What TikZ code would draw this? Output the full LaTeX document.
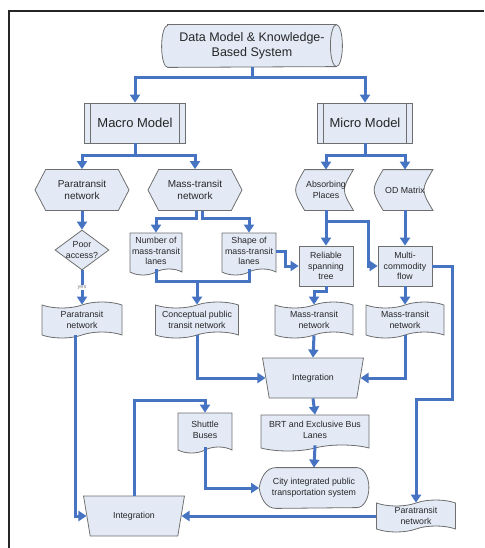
\documentclass[tikz,border=0pt]{standalone}
\usepackage{fontspec}
\setmainfont{Liberation Sans}
\usetikzlibrary{shapes.geometric,shapes.symbols,arrows.meta,backgrounds}
\definecolor{boxfill}{HTML}{E3EAF6}
\definecolor{boxline}{HTML}{6E6E6E}
\definecolor{flowblue}{HTML}{4674C2}
\definecolor{txt}{HTML}{262626}
\tikzset{
	base/.style={draw=boxline, fill=boxfill, line width=0.8pt, text=txt, align=center, inner sep=1pt, font=\fontsize{8.8}{10.6}\selectfont},
	hexa/.style={base, signal, signal to=west and east, signal pointer angle=125, minimum width=94pt, minimum height=41pt, font=\fontsize{10}{12}\selectfont},
	doc/.style={base, tape, tape bend top=none, tape bend height=6pt},
	tapebox/.style={base, tape, tape bend height=6pt},
	proc/.style={base, rectangle, minimum width=54pt, minimum height=40pt},
	predef/.style={base, rectangle, minimum height=40pt, font=\fontsize{13}{15}\selectfont,
		path picture={\draw[boxline, line width=0.8pt]
			([xshift=6pt]path picture bounding box.north west) -- ([xshift=6pt]path picture bounding box.south west)
			([xshift=-6pt]path picture bounding box.north east) -- ([xshift=-6pt]path picture bounding box.south east);}},
	manual/.style={base, trapezium, trapezium left angle=108, trapezium right angle=108, trapezium stretches=true, minimum width=101pt, minimum height=40pt},
	plain/.style={base, draw=none, fill=none, rectangle},
	outline/.style={draw=boxline, fill=boxfill, line width=0.8pt},
	flow/.style={draw=flowblue, line width=3pt, -{Triangle[length=8pt,width=10pt]}},
	link/.style={draw=flowblue, line width=3pt},
	yeslabel/.style={fill=white, inner sep=0.6pt, font=\fontsize{5.5}{6}\selectfont, text=gray},
}
\begin{document}
\begin{tikzpicture}[x=1pt, y=-1pt]
	\useasboundingbox (0,0) rectangle (484,548);
	\draw[line width=2pt, black!85] (9,548) -- (9,11) -- (484,11);

	% top levels
	\node[plain, minimum width=180pt, minimum height=42pt, font=\fontsize{12.5}{15}\selectfont] (dbs) at (252,46) {Data Model \& Knowledge-\\Based System};
	\node[predef, minimum width=101pt] (macro) at (135,123) {Macro Model};
	\node[predef, minimum width=95pt] (micro) at (365,123) {Micro Model};

	% macro side
	\node[hexa] (ptnet) at (82,190) {Paratransit\\network};
	\node[hexa] (mtnet) at (195,190) {Mass-transit\\network};
	\node[base, diamond, minimum width=54pt, minimum height=40pt, inner sep=0pt,
		label={[font=\fontsize{8.8}{10.6}\selectfont, text=txt, align=center]center:Poor\\access?}] (poor) at (82,250) {};
	\node[tapebox, minimum width=80pt, minimum height=36pt] (ptdoc) at (82,320) {Paratransit\\network};
	\node[doc, minimum width=52pt, minimum height=42pt] (numlanes) at (156,251) {Number of\\mass-transit\\lanes};
	\node[doc, minimum width=54pt, minimum height=42pt] (shapelanes) at (249,251) {Shape of\\mass-transit\\lanes};
	\node[tapebox, minimum width=83pt, minimum height=36pt] (cptn) at (197,320) {Conceptual public\\transit network};

	% micro side
	\node[plain, minimum width=54pt, minimum height=40pt] (absorb) at (326,190) {Absorbing\\Places};
	\node[plain, minimum width=55pt, minimum height=40pt] (odm) at (405,190) {OD Matrix};
	\node[proc] (rst) at (326,266) {Reliable\\spanning\\tree};
	\node[proc] (mcf) at (405,266) {Multi-\\commodity\\flow};
	\node[tapebox, minimum width=78pt, minimum height=36pt] (mtL) at (314,320) {Mass-transit\\network};
	\node[tapebox, minimum width=78pt, minimum height=36pt] (mtR) at (405,320) {Mass-transit\\network};

	% lower part
	\node[manual] (integ1) at (313,378) {Integration};
	\node[doc, minimum width=108pt, minimum height=36pt] (brt) at (315,430) {BRT and Exclusive Bus\\Lanes};
	\node[plain, minimum width=109pt, minimum height=40pt] (city) at (314,488) {City integrated public\\transportation system};
	\node[doc, minimum width=54pt, minimum height=40pt] (shuttle) at (205,430) {Shuttle\\Buses};
	\node[manual] (integ2) at (134,516) {Integration};
	\node[tapebox, minimum width=79pt, minimum height=32pt] (ptdocR) at (416,516) {Paratransit\\network};

	\begin{scope}[on background layer]
		\draw[outline] ([xshift=6pt]dbs.north west) -- ([xshift=-6pt]dbs.north east)
			arc[start angle=90, end angle=-90, x radius=6pt, y radius=21pt]
			-- ([xshift=6pt]dbs.south west) arc[start angle=270, end angle=90, x radius=6pt, y radius=21pt] -- cycle;
		\draw[boxline, line width=0.8pt] ([xshift=-6pt]dbs.north east) arc[start angle=90, end angle=270, x radius=6pt, y radius=21pt];
		\foreach \n in {absorb,odm}
			\draw[outline] ([xshift=6pt]\n.north west) -- (\n.north east) .. controls ([xshift=-12pt]\n.east) .. (\n.south east)
				-- ([xshift=6pt]\n.south west) .. controls ([xshift=-6pt]\n.west) .. ([xshift=6pt]\n.north west) -- cycle;
		\draw[outline] ([xshift=17pt]city.north west) -- ([xshift=-12pt]city.north east)
			arc[start angle=90, end angle=-90, x radius=12pt, y radius=20pt]
			-- ([xshift=17pt]city.south west) to[out=180, in=-80] (city.west) to[out=80, in=180] ([xshift=17pt]city.north west) -- cycle;
	\end{scope}

	% connectors
	\draw[flow] (dbs.south) -- ++(0,10) -| (macro.north);
	\draw[flow] (dbs.south) -- ++(0,10) -| (micro.north);
	\draw[flow] (macro.south) -- ++(0,12) -| (ptnet.north);
	\draw[flow] (macro.south) -- ++(0,12) -| (mtnet.north);
	\draw[flow] (micro.south) -- ++(0,12) -| (absorb.north);
	\draw[flow] (micro.south) -- ++(0,12) -| (odm.north);
	\draw[flow] (ptnet.south) -- (poor.north);
	\draw[flow] (poor.south) -- node[yeslabel] {yes} (ptdoc.north);
	\draw[flow] ([xshift=1pt]mtnet.south) -- ++(0,8) -| (numlanes.north);
	\draw[flow] ([xshift=7pt]mtnet.south) -- ++(0,8) -| (shapelanes.north);
	\coordinate (lanesjoin) at (197,281);
	\draw[link] (numlanes.south) |- (lanesjoin) -| (shapelanes.south);
	\draw[flow] (lanesjoin) -- (cptn.north);
	\draw[flow] (shapelanes.east) -- ++(9,0) |- (rst.west);
	\draw[flow] (absorb.south) -- (rst.north);
	\draw[flow] (absorb.south) -- ++(0,11) -| ([xshift=-9pt]mcf.west) -- (mcf.west);
	\draw[flow] (odm.south) -- (mcf.north);
	\draw[flow] (rst.south) -- ++(0,5) -| (mtL.north);
	\draw[flow] (mcf.south) -- (mtR.north);
	\draw[flow] (mcf.east) -- ++(20,0) -- ++(0,133) -| (ptdocR.north);
	\draw[flow] (mtL.south) -- (integ1.north);
	\draw[flow] (mtR.south) |- (integ1.east);
	\draw[flow] (cptn.south) |- (integ1.west);
	\draw[flow] (integ1.south) -- (brt.north);
	\draw[flow] (brt.south) -- (city.north);
	\draw[flow] ([xshift=-7pt]ptdoc.south) |- (integ2.west);
	\draw[flow] (ptdocR.west) -- (integ2.east);
	\draw[flow] (integ2.north) -- ++(0,-95) -| (shuttle.north);
	\draw[flow] (shuttle.south) |- (city.west);
\end{tikzpicture}
\end{document}
